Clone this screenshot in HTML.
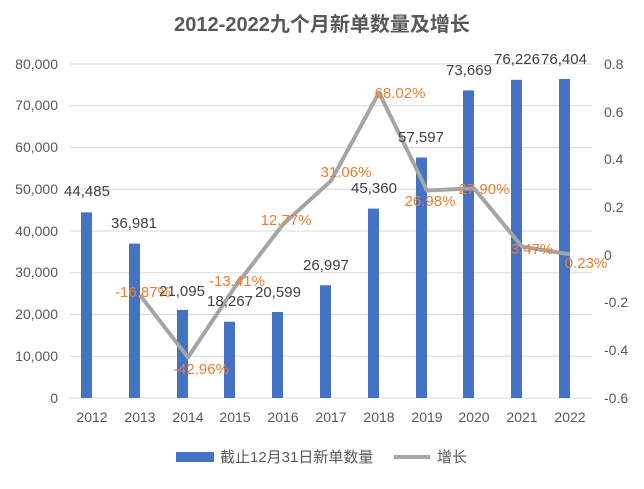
<!DOCTYPE html><html><head><meta charset="utf-8"><style>body{margin:0;background:#fff}</style></head><body>
<svg width="644" height="484" xmlns="http://www.w3.org/2000/svg" font-family="Liberation Sans, Noto Sans CJK SC, sans-serif">
<rect width="644" height="484" fill="#fff"/>
<text x="322" y="31" text-anchor="middle" font-size="20" font-weight="bold" fill="#595959">2012-2022九个月新单数量及增长</text>
<g stroke="#d9d9d9" stroke-width="1">
<line x1="70" x2="592" y1="64" y2="64"/><line x1="70" x2="592" y1="105.75" y2="105.75"/><line x1="70" x2="592" y1="147.5" y2="147.5"/><line x1="70" x2="592" y1="189.25" y2="189.25"/><line x1="70" x2="592" y1="231" y2="231"/><line x1="70" x2="592" y1="272.75" y2="272.75"/><line x1="70" x2="592" y1="314.5" y2="314.5"/><line x1="70" x2="592" y1="356.25" y2="356.25"/><line x1="70" x2="592" y1="398" y2="398"/>
</g>
<g font-size="14" fill="#595959" text-anchor="end">
<text x="58" y="69">80,000</text><text x="58" y="110">70,000</text><text x="58" y="152">60,000</text><text x="58" y="194">50,000</text><text x="58" y="236">40,000</text><text x="58" y="277">30,000</text><text x="58" y="319">20,000</text><text x="58" y="361">10,000</text><text x="58" y="403">0</text>
</g>
<g font-size="14" fill="#595959" text-anchor="start">
<text x="604" y="69">0.8</text><text x="604" y="117">0.6</text><text x="604" y="164">0.4</text><text x="604" y="212">0.2</text><text x="604" y="260">0</text><text x="604" y="307">-0.2</text><text x="604" y="355">-0.4</text><text x="604" y="403">-0.6</text>
</g>
<g font-size="14" fill="#595959" text-anchor="middle">
<text x="92" y="422">2012</text><text x="140" y="422">2013</text><text x="188" y="422">2014</text><text x="235" y="422">2015</text><text x="283" y="422">2016</text><text x="331" y="422">2017</text><text x="379" y="422">2018</text><text x="427" y="422">2019</text><text x="474" y="422">2020</text><text x="522" y="422">2021</text><text x="570" y="422">2022</text>
</g>
<g fill="#4472c4">
<rect x="81" y="212.3" width="11" height="185.7"/>
<rect x="129" y="243.6" width="11" height="154.4"/>
<rect x="177" y="309.9" width="11" height="88.1"/>
<rect x="224" y="321.7" width="11" height="76.3"/>
<rect x="272" y="312" width="11" height="86"/>
<rect x="320" y="285.3" width="11" height="112.7"/>
<rect x="368" y="208.6" width="11" height="189.4"/>
<rect x="416" y="157.5" width="11" height="240.5"/>
<rect x="463" y="90.4" width="11" height="307.6"/>
<rect x="511" y="79.8" width="11" height="318.2"/>
<rect x="559" y="79" width="11" height="319"/>
</g>
<polyline fill="none" stroke="#a5a5a5" stroke-width="4" stroke-linejoin="round" points="140,295.2 188,357.4 235,286.9 283,224.4 331,180.8 379,92.6 427,190.5 474,188.3 522,246.6 570,254.4"/>
<g font-size="15" fill="#404040" text-anchor="middle">
<text x="87" y="196">44,485</text><text x="134" y="228">36,981</text><text x="182" y="296">21,095</text><text x="230" y="306">18,267</text><text x="278" y="297">20,599</text><text x="326" y="270">26,997</text><text x="374" y="193">45,360</text><text x="421" y="142">57,597</text><text x="469" y="75">73,669</text><text x="517" y="64">76,226</text><text x="564" y="64">76,404</text>
</g>
<g font-size="15" fill="#ed7d31" text-anchor="middle">
<text x="143" y="297">-16.87%</text><text x="201" y="374">-42.96%</text><text x="237" y="286">-13.41%</text><text x="286" y="225">12.77%</text><text x="346" y="177">31.06%</text><text x="400" y="98">68.02%</text><text x="430" y="206">26.98%</text><text x="484" y="194">27.90%</text><text x="532" y="254">3.47%</text><text x="586" y="268">0.23%</text>
</g>
<rect x="176" y="452" width="38" height="10" fill="#4472c4"/>
<text x="220" y="462" font-size="15" fill="#595959">截止12月31日新单数量</text>
<line x1="394" x2="430" y1="457" y2="457" stroke="#a5a5a5" stroke-width="4"/>
<text x="437" y="462" font-size="15" fill="#595959">增长</text>
</svg>
</body></html>
